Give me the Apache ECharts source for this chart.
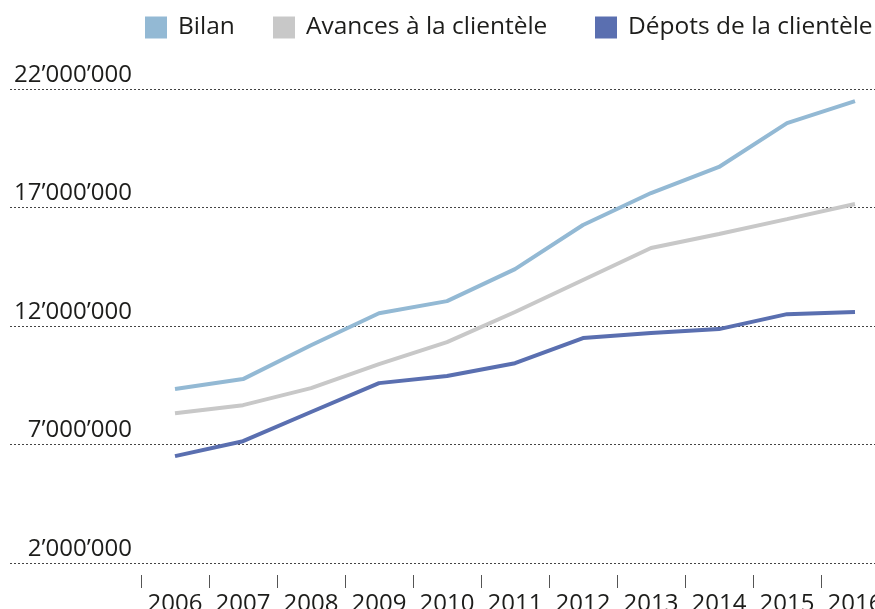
<!DOCTYPE html>
<html>
<head>
<meta charset="utf-8">
<script src="https://cdn.jsdelivr.net/npm/echarts@6/dist/echarts.min.js"></script>
<style>html,body{margin:0;padding:0;background:#fff}#c{width:875px;height:609px}</style>
</head>
<body>
<div id="c"></div>
<script>
const years = ['2006','2007','2008','2009','2010','2011','2012','2013','2014','2015','2016'];
const bilan = [9340000, 9760000, 11190000, 12540000, 13050000, 14400000, 16260000, 17610000, 18710000, 20560000, 21490000];
const avances = [8320000, 8660000, 9380000, 10390000, 11320000, 12590000, 13940000, 15290000, 15880000, 16510000, 17150000];
const depots = [6510000, 7140000, 8370000, 9590000, 9890000, 10430000, 11490000, 11700000, 11870000, 12500000, 12590000];
const yTickValues = [2000000, 7000000, 12000000, 17000000, 22000000];
const yTickLabels = ['2’000’000', '7’000’000', '12’000’000', '17’000’000', '22’000’000'];
const seriesNames = ['Bilan', 'Avances à la clientèle', 'Dépots de la clientèle'];

const FONT = '"Open Sans", "Noto Sans", sans-serif';
const TXT = '#1d1d1b';
const colors = ['#93b9d4', '#c8c8c8', '#5a6fb0'];

const legendBase = {
  top: 15, padding: 0, icon: 'rect', itemWidth: 22, itemHeight: 22,
  selectedMode: false,
  textStyle: { fontFamily: FONT, fontSize: 24.5, color: TXT, padding: [0,0,0,6] }
};

const chart = echarts.init(document.getElementById('c'), null, { renderer: 'canvas' });
chart.setOption({
  animation: false,
  color: colors,
  legend: [
    Object.assign({}, legendBase, { left: 145, data: [seriesNames[0]] }),
    Object.assign({}, legendBase, { left: 273, data: [seriesNames[1]] }),
    Object.assign({}, legendBase, { left: 595, data: [seriesNames[2]] })
  ],
  grid: [
    { left: 10, right: 0, top: 89, bottom: 46, outerBoundsMode: 'none', containLabel: false },
    { left: 141, width: 748, top: 89, bottom: 46, outerBoundsMode: 'none', containLabel: false }
  ],
  xAxis: [
    { gridIndex: 0, type: 'category', data: years, show: false },
    {
      gridIndex: 1, type: 'category', data: years, boundaryGap: true, offset: 12,
      axisLine: { show: false },
      axisTick: { show: true, interval: 0, length: 13, lineStyle: { color: '#555', width: 1 } },
      axisLabel: { interval: 0, hideOverlap: false, fontFamily: FONT, fontSize: 24, color: TXT, margin: 17 }
    }
  ],
  yAxis: [
    {
      gridIndex: 0, type: 'value', min: 2000000, max: 22000000, interval: 5000000,
      axisLine: { show: false }, axisTick: { show: false },
      splitLine: { lineStyle: { color: '#444', type: [2, 2], width: 1 } },
      axisLabel: {
        inside: true, margin: 122, align: 'right', verticalAlign: 'bottom',
        fontFamily: FONT, fontSize: 24, color: TXT, lineHeight: 24, padding: [0,0,2,0],
        formatter: function (v) { const i = yTickValues.indexOf(v); return i >= 0 ? yTickLabels[i] : ''; }
      }
    },
    {
      gridIndex: 1, type: 'value', min: 2000000, max: 22000000, interval: 5000000,
      show: false, splitLine: { show: false }
    }
  ],
  series: [
    { name: seriesNames[0], type: 'line', xAxisIndex: 1, yAxisIndex: 1, data: bilan, symbol: 'none', lineStyle: { width: 4, color: colors[0] }, itemStyle: { color: colors[0] } },
    { name: seriesNames[1], type: 'line', xAxisIndex: 1, yAxisIndex: 1, data: avances, symbol: 'none', lineStyle: { width: 4, color: colors[1] }, itemStyle: { color: colors[1] } },
    { name: seriesNames[2], type: 'line', xAxisIndex: 1, yAxisIndex: 1, data: depots, symbol: 'none', lineStyle: { width: 4, color: colors[2] }, itemStyle: { color: colors[2] } }
  ]
});
</script>
</body>
</html>
